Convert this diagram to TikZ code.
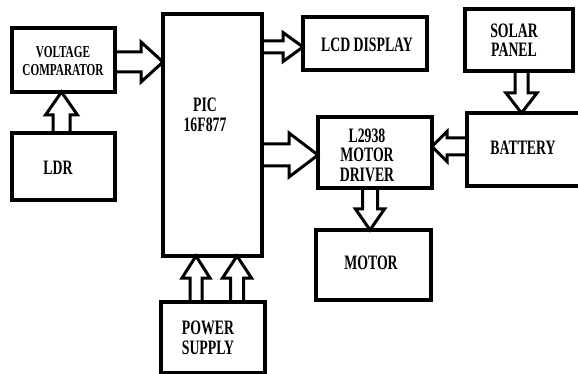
\documentclass[tikz,border=0pt]{standalone}
\usepackage{fontspec}
\setmainfont{Liberation Serif}
\usetikzlibrary{calc}
\tikzset{
  box/.style={draw, line width=3.5pt, inner sep=0pt, outer sep=0pt},
  lbl/.style={font=\bfseries\fontsize{16.8}{16}\selectfont, align=center, xscale=0.82, yscale=1.22, transform shape, inner sep=0pt},
  lbls/.style={lbl, font=\bfseries\fontsize{13.7}{15.4}\selectfont},
  blk/.style={draw, line width=3pt, line join=miter}
}
\newcommand\blockarrow[5]{%
  \coordinate (bah) at ($(#2)!#5!(#1)$);
  \draw[blk] ($(#1)!#3!90:(#2)$) -- ($(bah)!#3!90:(#2)$) -- ($(bah)!#4!90:(#2)$) -- (#2)
     -- ($(bah)!#4!-90:(#2)$) -- ($(bah)!#3!-90:(#2)$) -- ($(#1)!#3!-90:(#2)$);
}
\begin{document}
\begin{tikzpicture}[x=1pt,y=-1pt]
\useasboundingbox (0,0) rectangle (578,374);
\clip (0,0) rectangle (578,374);
% boxes
\node[box, minimum width=103pt, minimum height=64pt] (vc) at (63.5,60) {};
\node[box, minimum width=103pt, minimum height=67pt] (ldr) at (63.5,166.5) {};
\node[box, minimum width=99pt, minimum height=242pt] (pic) at (212.5,135) {};
\node[box, minimum width=124pt, minimum height=53pt] (lcd) at (365,43.5) {};
\node[box, minimum width=108pt, minimum height=62pt] (sol) at (519,40) {};
\node[box, minimum width=124pt, minimum height=73pt] (bat) at (529,149.5) {};
\node[box, minimum width=114pt, minimum height=71pt] (drv) at (375,152.5) {};
\node[box, minimum width=115pt, minimum height=70pt] (mot) at (373.5,265) {};
\node[box, minimum width=104pt, minimum height=71pt] (pow) at (213,337.5) {};
% labels
\node[lbls] (vct) at (63,61) {VOLTAGE\\COMPARATOR};
\node[lbl] (ldrt) at (58,168) {LDR};
\node[lbl] (pict) at (205,115) {PIC\\16F877};
\node[lbl] (lcdt) at (367,45) {LCD DISPLAY};
\node[lbl] (solt) at (514,40) {SOLAR\\PANEL};
\node[lbl] (batt) at (523,148) {BATTERY};
\node[lbl] (drvt) at (367,155) {L2938\\MOTOR\\DRIVER};
\node[lbl] (mott) at (371,263) {MOTOR};
\node[lbl] (powt) at (208,338) {POWER\\SUPPLY};
% arrow end points
\coordinate (a1s) at ($(vc.east)+(0,2)$);
\coordinate (a1e) at (pic.west |- a1s);
\coordinate (a2s) at ($(ldr.north)+(-2,0)$);
\coordinate (a2e) at (vc.south -| a2s);
\coordinate (a3e) at ($(lcd.west)+(0,3.5)$);
\coordinate (a3s) at (pic.east |- a3e);
\coordinate (a4e) at ($(drv.west)+(0,2.5)$);
\coordinate (a4s) at (pic.east |- a4e);
\coordinate (a5s) at ($(sol.south)+(2.5,0)$);
\coordinate (a5e) at (bat.north -| a5s);
\coordinate (a6s) at ($(bat.west)+(0,-3)$);
\coordinate (a6e) at (drv.east |- a6s);
\coordinate (a7s) at ($(drv.south)+(-5,0)$);
\coordinate (a7e) at (mot.north -| a7s);
\coordinate (a8s) at ($(pow.north)+(-17,0)$);
\coordinate (a8e) at (pic.south -| a8s);
\coordinate (a9s) at ($(pow.north)+(24,0)$);
\coordinate (a9e) at (pic.south -| a9s);
% block arrows
\blockarrow{a1s}{a1e}{10pt}{20pt}{22pt}
\blockarrow{a2s}{a2e}{8.5pt}{16pt}{23pt}
\blockarrow{a3s}{a3e}{6pt}{14.5pt}{20pt}
\blockarrow{a4s}{a4e}{11pt}{22pt}{29pt}
\blockarrow{a5s}{a5e}{6.5pt}{15.5pt}{20pt}
\blockarrow{a6s}{a6e}{8.5pt}{15pt}{15pt}
\blockarrow{a7s}{a7e}{7.5pt}{14.5pt}{21pt}
\blockarrow{a8s}{a8e}{6pt}{14pt}{22pt}
\blockarrow{a9s}{a9e}{6.5pt}{14.5pt}{22pt}
\end{tikzpicture}
\end{document}
